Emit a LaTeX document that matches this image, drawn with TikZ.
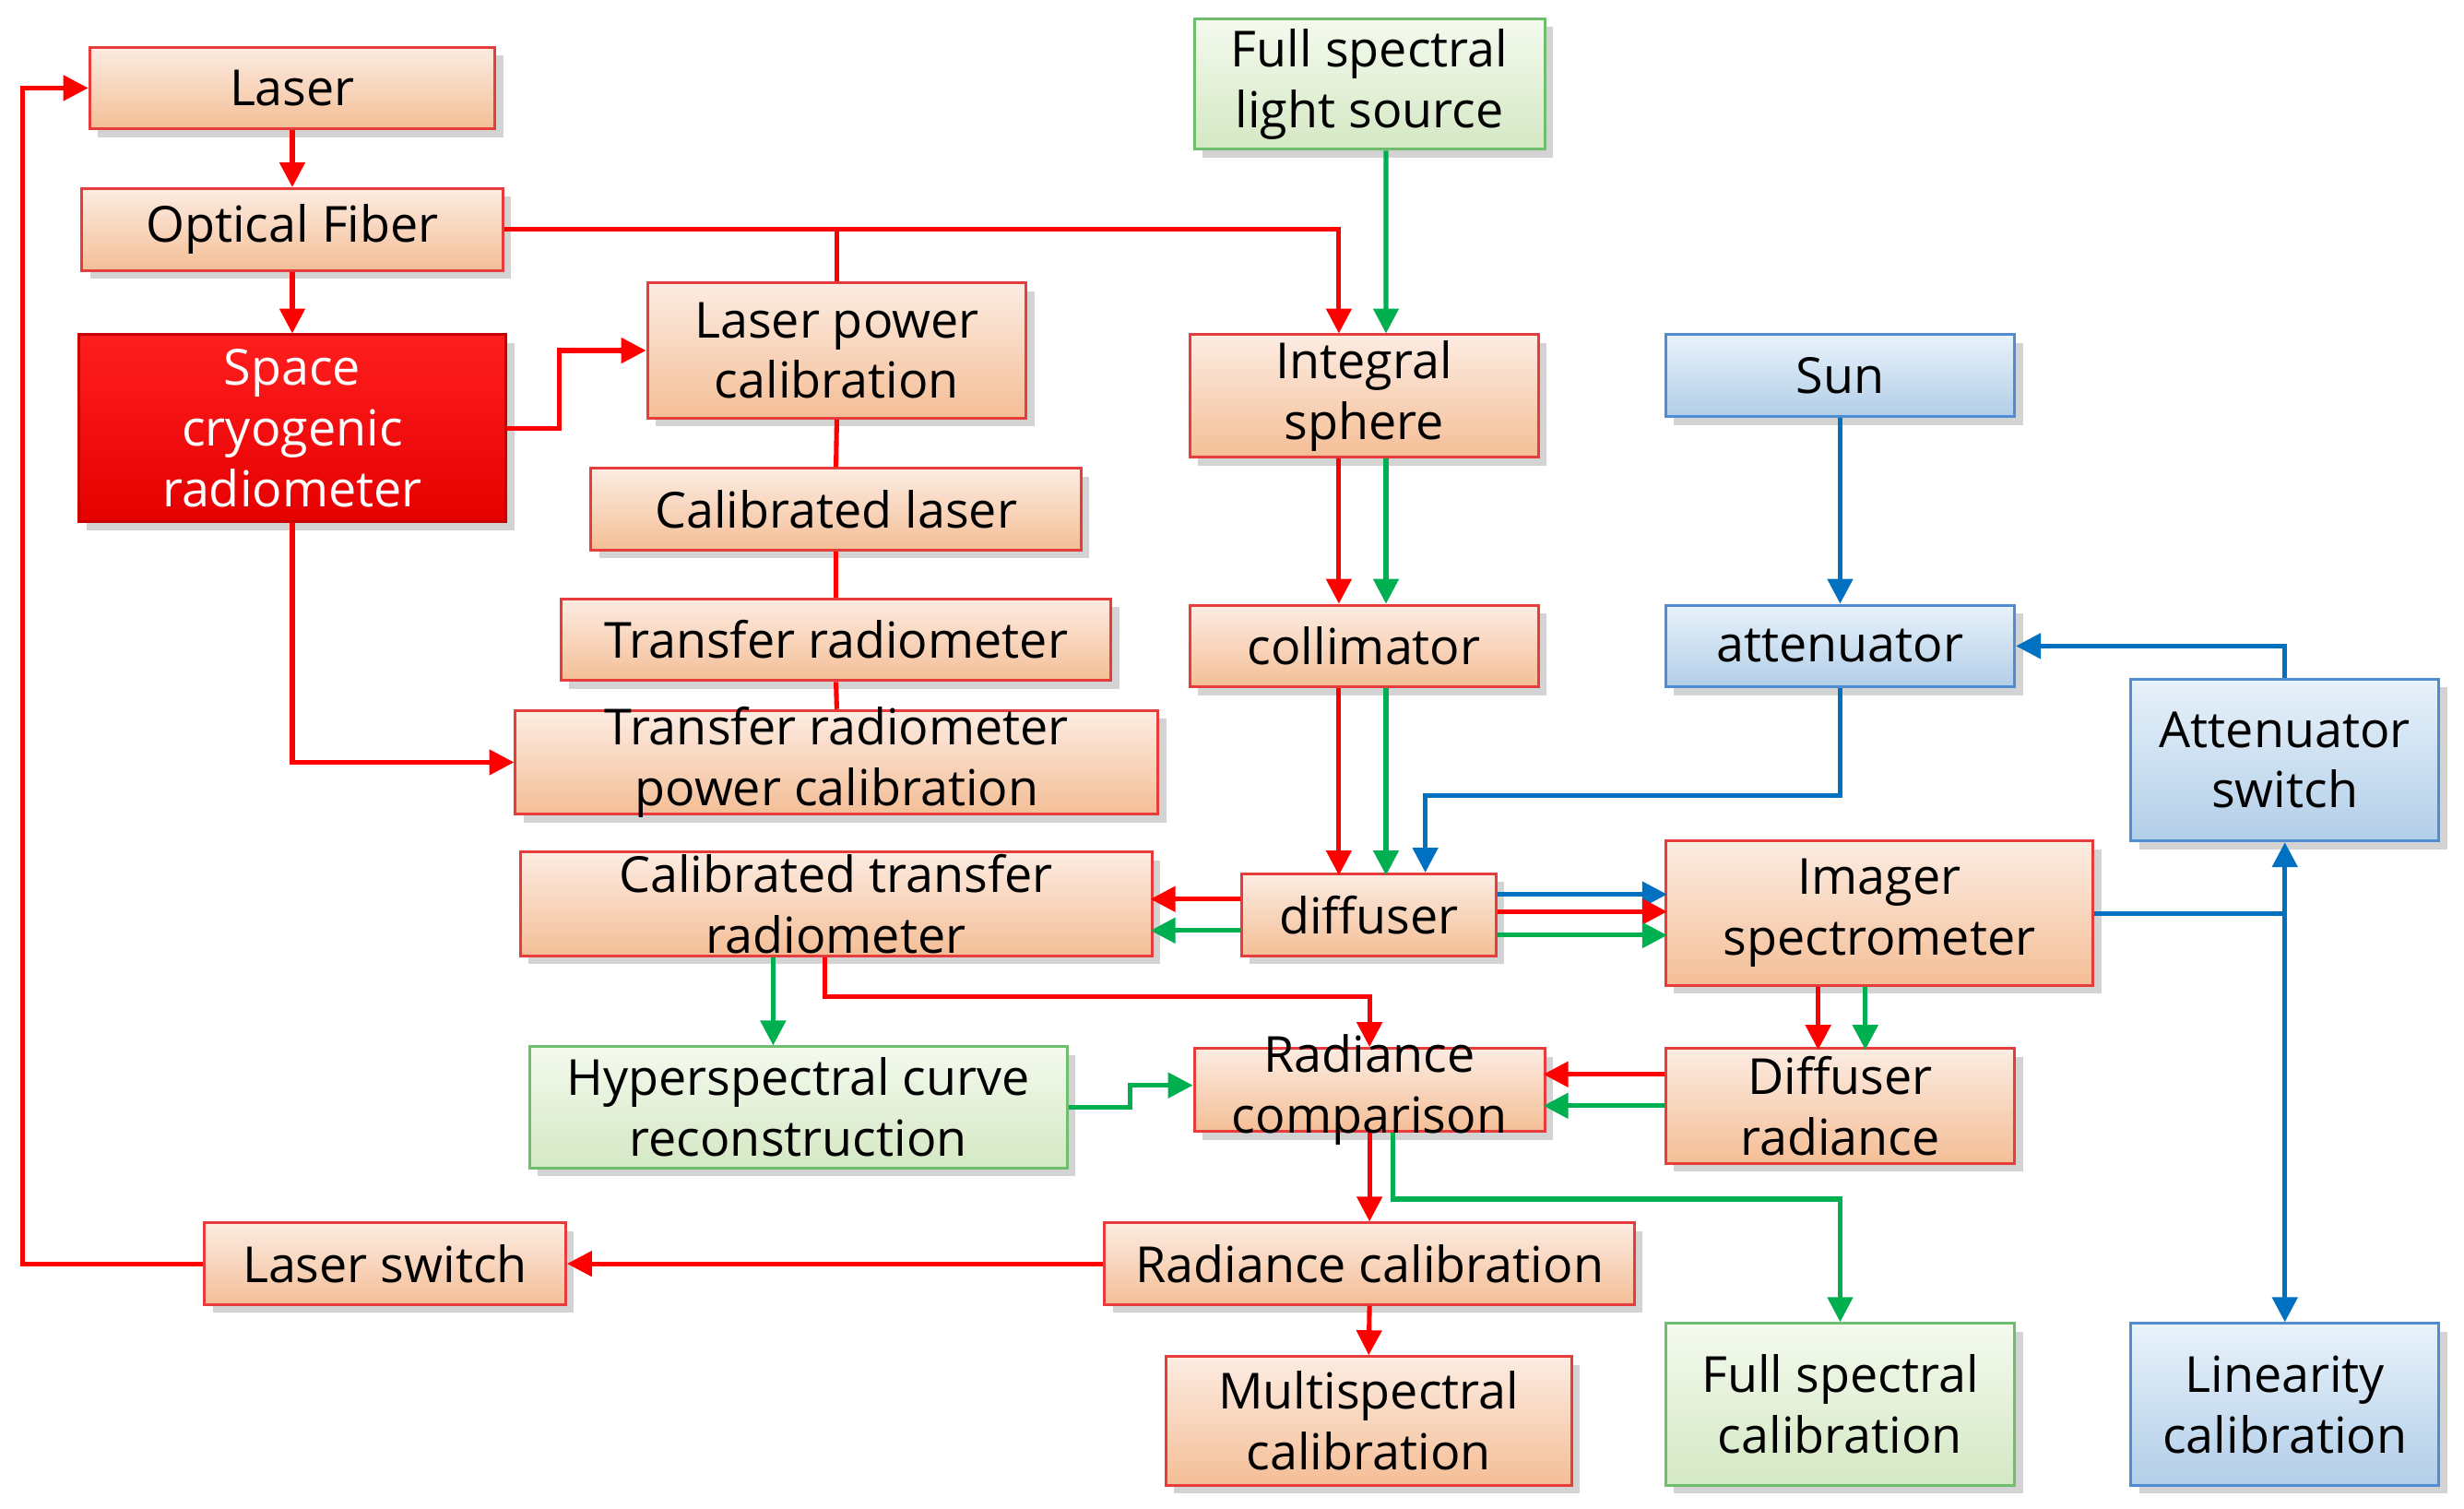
\documentclass[tikz,border=0pt]{standalone}
\usepackage{fontspec}
\setmainfont{Open Sans}
\usetikzlibrary{calc,fit,shadows,arrows.meta}
\definecolor{rr}{HTML}{FF0000}
\definecolor{gg}{HTML}{00B050}
\definecolor{bb}{HTML}{0070C0}
\newcommand\bxt[3][black]{\node[align=center, text=#1, font=\fontsize{18}{22}\selectfont, inner sep=0pt] at (#2.center) {#3};}
\begin{document}
\begin{tikzpicture}[x=0.02cm,y=-0.02cm,
 box/.style={draw, line width=1pt, inner sep=0pt,
   drop shadow={shadow xshift=3pt,shadow yshift=-3pt,opacity=.35,fill=gray}},
 ob/.style={box, draw={rgb,255:red,230;green,60;blue,60}, top color={rgb,255:red,252;green,236;blue,226}, bottom color={rgb,255:red,244;green,190;blue,150}},
 gb/.style={box, draw={rgb,255:red,110;green,190;blue,110}, top color={rgb,255:red,244;green,250;blue,238}, bottom color={rgb,255:red,212;green,232;blue,196}},
 bbx/.style={box, draw={rgb,255:red,80;green,140;blue,210}, top color={rgb,255:red,232;green,242;blue,250}, bottom color={rgb,255:red,178;green,206;blue,232}},
 rb/.style={box, draw={rgb,255:red,200;green,0;blue,0}, top color={rgb,255:red,255;green,30;blue,30}, bottom color={rgb,255:red,230;green,0;blue,0}},
 ar/.style={line width=1.7pt, -{Triangle[length=9pt,width=9pt]}},
 R/.style={ar, draw=rr}, G/.style={ar, draw=gg}, B/.style={ar, draw=bb},
 Rl/.style={line width=1.7pt, draw=rr}]
\useasboundingbox (0,0) rectangle (1568,960);
\node[ob, fit={(57,30)(315,82)}] (laser) {};
\node[ob, fit={(52,120)(320,172)}] (ofib) {};
\node[rb, fit={(50,213)(322,332)}] (scr) {};
\node[ob, fit={(412,180)(653,266)}] (lpc) {};
\node[ob, fit={(376,298)(688,350)}] (cl) {};
\node[ob, fit={(357,381)(707,433)}] (tr) {};
\node[ob, fit={(328,452)(737,518)}] (trpc) {};
\node[ob, fit={(331,542)(733,608)}] (ctr) {};
\node[gb, fit={(760,12)(983,95)}] (fsls) {};
\node[ob, fit={(757,213)(979,291)}] (isph) {};
\node[ob, fit={(757,385)(979,437)}] (coll) {};
\node[ob, fit={(790,556)(952,608)}] (diff) {};
\node[bbx, fit={(1060,213)(1282,265)}] (sun) {};
\node[bbx, fit={(1060,385)(1282,437)}] (attn) {};
\node[bbx, fit={(1356,432)(1552,535)}] (as) {};
\node[ob, fit={(1060,535)(1332,627)}] (img) {};
\node[gb, fit={(337,666)(679,743)}] (hcr) {};
\node[ob, fit={(760,667)(983,720)}] (rc) {};
\node[ob, fit={(1060,667)(1282,740)}] (dr) {};
\node[ob, fit={(130,778)(360,830)}] (lsw) {};
\node[ob, fit={(703,778)(1040,830)}] (radcal) {};
\node[ob, fit={(742,863)(1000,945)}] (multi) {};
\node[gb, fit={(1060,842)(1282,945)}] (fsc) {};
\node[bbx, fit={(1356,842)(1552,945)}] (lin) {};
\bxt{laser}{Laser}
\bxt{ofib}{Optical Fiber}
\bxt[white]{scr}{Space\\cryogenic\\radiometer}
\bxt{lpc}{Laser power\\calibration}
\bxt{cl}{Calibrated laser}
\bxt{tr}{Transfer radiometer}
\bxt{trpc}{Transfer radiometer\\power calibration}
\bxt{ctr}{Calibrated transfer\\radiometer}
\bxt{fsls}{Full spectral\\light source}
\bxt{isph}{Integral\\sphere}
\bxt{coll}{collimator}
\bxt{diff}{diffuser}
\bxt{sun}{Sun}
\bxt{attn}{attenuator}
\bxt{as}{Attenuator\\switch}
\bxt{img}{Imager\\spectrometer}
\bxt{hcr}{Hyperspectral curve\\reconstruction}
\bxt{rc}{Radiance\\comparison}
\bxt{dr}{Diffuser\\radiance}
\bxt{lsw}{Laser switch}
\bxt{radcal}{Radiance calibration}
\bxt{multi}{Multispectral\\calibration}
\bxt{fsc}{Full spectral\\calibration}
\bxt{lin}{Linearity\\calibration}

\draw[R] (lsw.west) -- ++(-115,0) |- (laser.west);
\draw[R] (laser.south) -- (ofib.north);
\draw[R] (ofib.south) -- (scr.north);
\draw[R] (ofib.east) -| ($(isph.north)+(-16,0)$);
\draw[Rl] (lpc.north) -- ++(0,-35);
\draw[Rl] (lpc.south) -- (cl.north);
\draw[Rl] (cl.south) -- (tr.north);
\draw[Rl] (tr.south) -- (trpc.north);
\draw[R] (scr.east) -- ++(33,0) |- (lpc.west);
\draw[R] (scr.south) |- (trpc.west);
\draw[G] ($(fsls.south)+(10.5,0)$) -- ($(isph.north)+(14,0)$);
\draw[R] ($(isph.south)+(-16,0)$) -- ($(coll.north)+(-16,0)$);
\draw[G] ($(isph.south)+(14,0)$) -- ($(coll.north)+(14,0)$);
\draw[R] ($(coll.south)+(-16,0)$) -- ++(0,119);
\draw[G] ($(coll.south)+(14,0)$) -- ++(0,119);
\draw[B] (sun.south) -- (attn.north);
\draw[B] (attn.south) -- ++(0,68) -| ($(diff.north)+(36,0)$);
\draw[R] ($(diff.west)+(0,-10)$) -- ++(-57,0);
\draw[G] ($(diff.west)+(0,10)$) -- ++(-57,0);
\draw[B] ($(diff.east)+(0,-13)$) -- ++(108,0);
\draw[R] ($(diff.east)+(0,-2)$) -- ++(108,0);
\draw[G] ($(diff.east)+(0,13)$) -- ++(108,0);
\draw[R] ($(ctr.south)+(-7,0)$) -- ++(0,25) -| (rc.north);
\draw[G] ($(ctr.south)+(-40,0)$) -- ($(hcr.north)+(-16,0)$);
\draw[G] (hcr.east) -- ++(39,0) |- ($(rc.west)+(0,-3)$);
\draw[R] ($(dr.west)+(0,-20)$) -- ++(-77,0);
\draw[G] ($(dr.west)+(0,0)$) -- ++(-77,0);
\draw[R] ($(img.south)+(-39,0)$) -- ++(0,40);
\draw[G] ($(img.south)+(-9,0)$) -- ++(0,40);
\draw[R] (rc.south) -- (radcal.north);
\draw[G] ($(rc.south)+(15,0)$) -- ++(0,42) -| (fsc.north);
\draw[R] (radcal.west) -- (lsw.east);
\draw[R] (radcal.south) -- (multi.north);
\draw[B] (as.north) |- (attn.east);
\draw[line width=1.7pt, draw=bb] (img.east) -- (img.east -| as.south);
\draw[B, {Triangle[length=9pt,width=9pt]}-{Triangle[length=9pt,width=9pt]}] (as.south) -- (lin.north);
\end{tikzpicture}
\end{document}
